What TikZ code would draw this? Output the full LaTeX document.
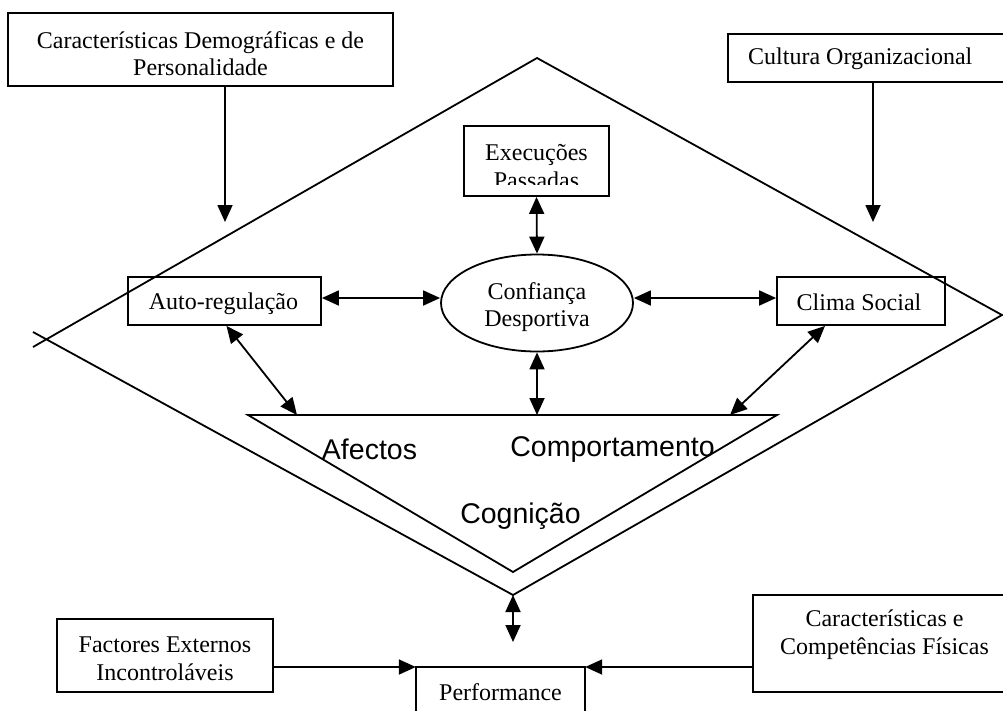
\documentclass[tikz,border=0pt]{standalone}
\usepackage{fontspec}
\setmainfont{Liberation Serif}
\newfontfamily\sansf{Liberation Sans}
\usetikzlibrary{arrows.meta,shapes.geometric}
\tikzset{
  lw/.style={line width=1.8pt},
  box/.style={draw, lw, rectangle, inner sep=0pt},
  openbox/.style={rectangle, inner sep=0pt},
  ell/.style={draw, lw, ellipse, inner sep=0pt},
  txt/.style={inner sep=0pt, align=center, font=\fontsize{24}{27.5}\selectfont},
  big/.style={inner sep=0pt, font=\sansf\fontsize{28.5}{32}\selectfont},
  arr/.style={lw, -{Triangle[length=17pt,width=15pt]}},
  darr/.style={lw, {Triangle[length=17pt,width=15pt]}-{Triangle[length=17pt,width=15pt]}},
}
\begin{document}
\begin{tikzpicture}[x=1pt,y=-1pt]
\useasboundingbox (0,0) rectangle (1003,710);
\clip (0,0) rectangle (1003,710);
\fill[white] (0,0) rectangle (1003,710);

% big diamond (left ends cross)
\coordinate (dL1) at (33,347);
\coordinate (dT) at (537,58);
\coordinate (dR) at (1002,315);
\coordinate (dB) at (513,595);
\coordinate (dL2) at (33,332);
\draw[lw, line join=miter] (dL1) -- (dT) -- (dR) -- (dB) -- (dL2);

% inner triangle
\coordinate (tL) at (248,415);
\coordinate (tR) at (777,415);
\coordinate (tB) at (513,572);
\draw[lw, line join=miter] (tL) -- (tR) -- (tB) -- cycle;

% top-left box
\node[box, minimum width=385pt, minimum height=73pt] (cdp) at (200.5,49.5) {};
\node[txt] (cdpt) at (200.5,53.5) {Características Demográficas e de\\Personalidade};

% top-right box (runs off the right edge)
\node[openbox, anchor=west, minimum width=300pt, minimum height=48pt] (cult) at (728,58) {};
\draw[lw] (cult.north east) -- (cult.north west) -- (cult.south west) -- (cult.south east);
\node[txt, anchor=west] (cultt) at (748,59) {Cultura Organizacional};

\coordinate (cdpend) at (225,222);
\coordinate (cultend) at (873,222);
\draw[arr] (cdp.south -| cdpend) -- (cdpend);
\draw[arr] (cult.south -| cultend) -- (cultend);

% Execucoes Passadas (text clipped by its box)
\node[box, minimum width=145pt, minimum height=70pt] (exe) at (536.5,161) {};
\begin{scope}
  \clip (exe.north west) rectangle ([yshift=12pt]exe.south east);
  \node[txt] (exet) at (536.5,166.5) {Execuções\\Passadas};
\end{scope}

% central ellipse and side boxes
\node[ell, minimum width=192pt, minimum height=97pt] (conf) at (537,303) {};
\node[txt] (conft) at (537,307) {Confiança\\Desportiva};
\node[box, minimum width=193pt, minimum height=48pt] (auto) at (224.5,301) {};
\node[txt] (autot) at (223.5,303.5) {Auto-regulação};
\node[box, minimum width=168pt, minimum height=48pt] (clima) at (861,301) {};
\node[txt] (climat) at (859,302) {Clima Social};

\draw[darr] (exe.south) -- (conf.north);
\draw[darr] (auto.east |- 0,298) -- (conf.west |- 0,298);
\draw[darr] (conf.east |- 0,298) -- (clima.west |- 0,298);

% connections to triangle
\coordinate (ta) at (297,415);
\coordinate (tb) at (537,415);
\coordinate (tc) at (730,415);
\draw[darr] ([xshift=2pt]auto.south) -- (ta);
\draw[darr] (conf.south) -- (tb);
\draw[darr] ([xshift=-36pt]clima.south) -- (tc);

% triangle labels
\node[big] (afe) at (369.5,449) {Afectos};
\node[big] (comp) at (612.5,449) {Comportamento};
\node[big] (cog) at (520.5,516) {Cognição};

% bottom part
\node[openbox, anchor=north, minimum width=169pt, minimum height=60pt] (perf) at (500.5,667) {};
\draw[lw] (perf.south west) -- (perf.north west) -- (perf.north east) -- (perf.south east);
\node[txt] (perft) at (500.5,692) {Performance};
\coordinate (pa) at (513,642);
\draw[darr] (dB) -- (pa);

\node[box, minimum width=216pt, minimum height=73pt] (fac) at (165,655.5) {};
\node[txt] (fact) at (165,658.5) {Factores Externos\\Incontroláveis};

\node[openbox, anchor=west, minimum width=280pt, minimum height=97pt] (phys) at (753,643.5) {};
\draw[lw] (phys.north east) -- (phys.north west) -- (phys.south west) -- (phys.south east);
\node[txt] (physt) at (884.5,634.5) {Características e\\Competências Físicas};

\draw[arr] (fac.east |- perf.north west) -- (perf.north west);
\draw[arr] (phys.west |- perf.north east) -- (perf.north east);
\end{tikzpicture}
\end{document}
